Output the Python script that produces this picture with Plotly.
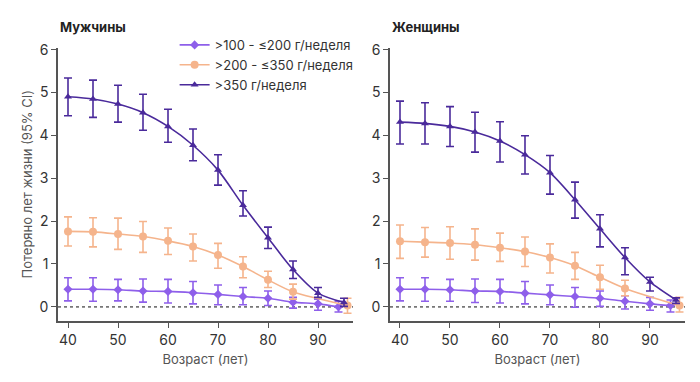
import plotly.graph_objects as go
from plotly.subplots import make_subplots

ages = [40, 45, 50, 55, 60, 65, 70, 75, 80, 85, 90]
age_last_low = 94.1
age_last_high = 95.2
age_last_mid = 95.9

series_names = [">100 - ≤200 г/неделя", ">200 - ≤350 г/неделя", ">350 г/неделя"]

# Men
m_low = [0.41, 0.41, 0.40, 0.37, 0.36, 0.33, 0.29, 0.24, 0.20, 0.11, 0.07, 0.00]
m_low_hi = [0.68, 0.68, 0.64, 0.65, 0.64, 0.59, 0.51, 0.45, 0.37, 0.22, 0.18, 0.13]
m_low_lo = [0.14, 0.13, 0.14, 0.11, 0.09, 0.07, 0.05, 0.05, 0.03, -0.03, -0.08, -0.12]
m_mid = [1.76, 1.75, 1.70, 1.64, 1.54, 1.41, 1.21, 0.94, 0.63, 0.35, 0.03]
m_mid_hi = [2.10, 2.08, 2.07, 1.99, 1.84, 1.70, 1.48, 1.17, 0.83, 0.53, 0.20]
m_mid_lo = [1.42, 1.40, 1.34, 1.27, 1.22, 1.07, 0.90, 0.68, 0.45, 0.18, -0.15]
m_high = [4.90, 4.85, 4.73, 4.53, 4.21, 3.77, 3.19, 2.37, 1.61, 0.87, 0.32, 0.10]
m_high_hi = [5.34, 5.29, 5.17, 4.96, 4.61, 4.15, 3.55, 2.71, 1.86, 1.07, 0.45, 0.20]
m_high_lo = [4.46, 4.42, 4.31, 4.12, 3.84, 3.41, 2.84, 2.12, 1.36, 0.66, 0.22, 0.01]

# Women
w_low = [0.41, 0.41, 0.40, 0.37, 0.36, 0.32, 0.28, 0.24, 0.20, 0.13, 0.07, 0.03]
w_low_hi = [0.68, 0.68, 0.64, 0.65, 0.64, 0.59, 0.51, 0.45, 0.37, 0.26, 0.22, 0.16]
w_low_lo = [0.14, 0.13, 0.13, 0.10, 0.09, 0.07, 0.05, -0.01, 0.01, -0.05, -0.08, -0.12]
w_mid = [1.53, 1.51, 1.49, 1.45, 1.38, 1.29, 1.15, 0.96, 0.69, 0.43, 0.03]
w_mid_hi = [1.91, 1.85, 1.87, 1.82, 1.72, 1.63, 1.47, 1.27, 0.97, 0.62, 0.22]
w_mid_lo = [1.13, 1.16, 1.11, 1.09, 1.06, 0.94, 0.79, 0.64, 0.41, 0.26, -0.12]
w_high = [4.31, 4.28, 4.21, 4.08, 3.87, 3.55, 3.13, 2.50, 1.82, 1.15, 0.58, 0.16]
w_high_hi = [4.80, 4.76, 4.67, 4.54, 4.32, 3.99, 3.53, 2.91, 2.15, 1.38, 0.69, 0.21]
w_high_lo = [3.80, 3.80, 3.74, 3.61, 3.38, 3.10, 2.63, 2.07, 1.40, 0.75, 0.37, 0.08]

panel_titles = ["Мужчины", "Женщины"]
x_ticks = [40, 50, 60, 70, 80, 90]
y_ticks = [0, 1, 2, 3, 4, 5, 6]

c_low = "#8E5FEA"
c_mid = "#F5B48C"
c_high = "#4A2A9B"
FONT = "Inter, Roboto, sans-serif"

fig = make_subplots(rows=1, cols=2, horizontal_spacing=0.059)

x_low = ages + [age_last_low]
x_mid = ages[:-1] + [age_last_mid]
x_high = ages + [age_last_high]

panels = [
    (m_low, m_low_hi, m_low_lo, m_mid, m_mid_hi, m_mid_lo, m_high, m_high_hi, m_high_lo),
    (w_low, w_low_hi, w_low_lo, w_mid, w_mid_hi, w_mid_lo, w_high, w_high_hi, w_high_lo),
]

for ci, p in enumerate(panels):
    col = ci + 1
    specs = [
        (x_low, p[0], p[1], p[2], c_low, "diamond", 7, series_names[0]),
        (x_mid, p[3], p[4], p[5], c_mid, "circle", 8, series_names[1]),
        (x_high, p[6], p[7], p[8], c_high, "triangle-up", 7, series_names[2]),
    ]
    for xs, ys, hi, lo, color, sym, size, name in specs:
        fig.add_trace(go.Scatter(
            x=xs, y=ys, mode="lines+markers", name=name,
            showlegend=(col == 1), legendgroup=name,
            line=dict(color=color, width=1.6, shape="spline", smoothing=0.8),
            marker=dict(color=color, symbol=sym, size=size),
            error_y=dict(type="data", symmetric=False,
                         array=[h - v for h, v in zip(hi, ys)],
                         arrayminus=[v - l for v, l in zip(ys, lo)],
                         color=color, thickness=1.6, width=4),
        ), row=1, col=col)
    fig.add_hline(y=0, line=dict(color="#777777", width=1.6, dash="dot"), row=1, col=col, layer="below")

axis_font = dict(family=FONT, size=14, color="#333333")
for col in (1, 2):
    fig.update_xaxes(range=[38, 97], tickvals=x_ticks, showline=True, linecolor="#555555",
                     linewidth=1.5, ticks="outside", ticklen=5, tickwidth=1.2, tickcolor="#555555",
                     showgrid=False, zeroline=False, tickfont=axis_font,
                     title=dict(text="Возраст (лет)", font=dict(family=FONT, size=13, color="#555555"), standoff=8),
                     row=1, col=col)
    fig.update_yaxes(range=[-0.33, 6.05], tickvals=y_ticks, showline=True, linecolor="#555555",
                     linewidth=1.5, ticks="outside", ticklen=5, tickwidth=1.2, tickcolor="#555555",
                     showgrid=False, zeroline=False, tickfont=axis_font, domain=[0, 0.9302],
                     row=1, col=col)

fig.update_yaxes(title=dict(text="Потеряно лет жизни (95% CI)",
                            font=dict(family=FONT, size=13, color="#555555"), standoff=4),
                 row=1, col=1)

for i, t in enumerate(panel_titles):
    fig.add_annotation(text="<b>%s</b>" % t, xref=("x domain" if i == 0 else "x2 domain"),
                       yref=("y domain" if i == 0 else "y2 domain"),
                       x=0, y=1, xanchor="left", yanchor="bottom", yshift=11, showarrow=False,
                       font=dict(family=FONT, size=13, color="#222222"))

# small edge artifact present in the reference image
fig.add_shape(type="rect", xref="paper", yref="paper", x0=1.0207, x1=1.04, y0=-0.25, y1=-0.159,
              line=dict(color="black", width=1.5), fillcolor="rgba(0,0,0,0)")

fig.update_layout(
    width=700, height=382,
    margin=dict(l=50, r=23, t=12, b=69),
    paper_bgcolor="white", plot_bgcolor="white",
    showlegend=True,
    legend=dict(x=0.186, y=0.990, xanchor="left", yanchor="top",
                bgcolor="rgba(255,255,255,0)",
                font=dict(family=FONT, size=13, color="#333333"),
                itemwidth=30, tracegroupgap=0),
)

fig.write_html("out.html")
